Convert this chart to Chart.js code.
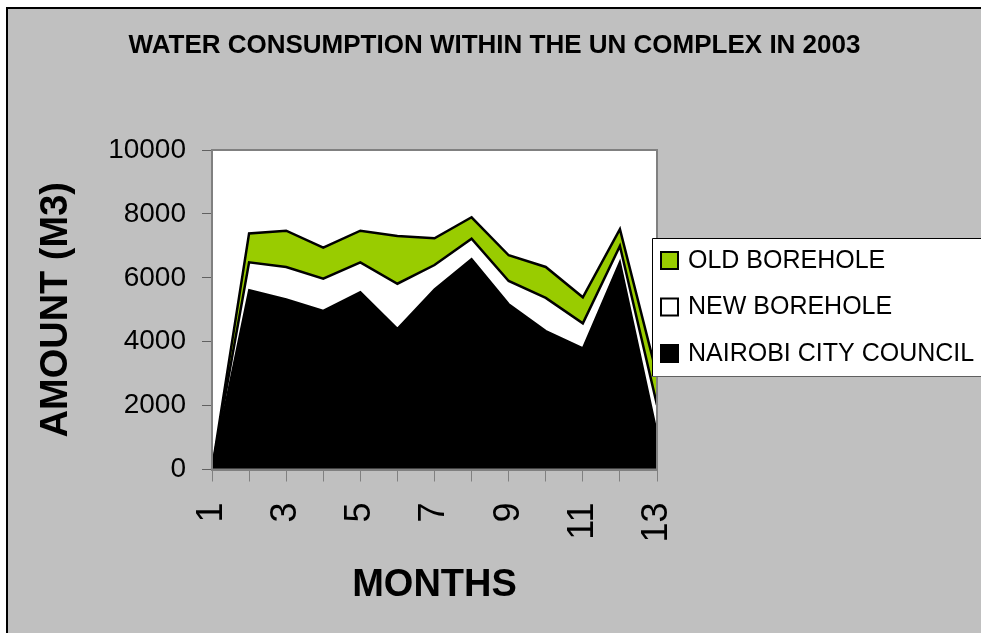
<!DOCTYPE html>
<html>
<head>
<meta charset="utf-8">
<title>Water consumption within the UN complex in 2003</title>
<script src="https://cdn.jsdelivr.net/npm/chart.js@4.4.0/dist/chart.umd.min.js"></script>
<style>
    html, body { margin: 0; padding: 0; background: #fff; }
    #wrap { width: 981px; height: 633px; }
</style>
</head>
<body>
<div id="wrap"><canvas id="waterChart" width="981" height="633"></canvas></div>
<script>
// ===== Data (m3 per month, stacked) =====
const months = ['1', '2', '3', '4', '5', '6', '7', '8', '9', '10', '11', '12', '13'];
const nairobiCouncil = [0, 5620, 5330, 4970, 5560, 4410, 5640, 6590, 5180, 4340, 3800, 6500, 1140];
const newBorehole = [0, 865, 1010, 1000, 925, 1405, 760, 635, 720, 1030, 775, 495, 880];
const oldBorehole = [0, 905, 1135, 975, 990, 1495, 835, 670, 805, 970, 815, 525, 930];
const yTickStep = 2000;
const yMax = 10000;

const FONT = '"Liberation Sans", Arial, sans-serif';

// ===== Grey frame + white plot area =====
const framePlugin = {
    id: 'frame',
    beforeDraw(chart) {
        const { ctx, width, height, chartArea: a } = chart;
        ctx.save();
        ctx.fillStyle = '#ffffff';
        ctx.fillRect(0, 0, width, height);
        ctx.fillStyle = '#c0c0c0';
        ctx.fillRect(7, 8, width, height);
        ctx.fillStyle = '#000';
        ctx.fillRect(6, 7, 2, height);
        ctx.fillRect(6, 7, width, 2);
        ctx.fillStyle = '#ffffff';
        ctx.fillRect(a.left, a.top, a.right - a.left, a.bottom - a.top);
        ctx.restore();
    },
    afterDatasetsDraw(chart) {
        const { ctx, chartArea: a } = chart;
        ctx.save();
        ctx.strokeStyle = '#808080';
        ctx.lineWidth = 2;
        ctx.strokeRect(a.left, a.top, a.right - a.left, a.bottom - a.top);
        ctx.restore();
    }
};

// ===== Boxed legend sitting over the right edge of the plot =====
const boxLegend = {
    id: 'boxLegend',
    afterDraw(chart) {
        const ctx = chart.ctx;
        const left = 652, top = 238, bottom = 377, right = chart.width + 2;
        const rows = [260, 306.5, 353];
        ctx.save();
        ctx.fillStyle = '#fff';
        ctx.fillRect(left, top, right - left, bottom - top);
        ctx.strokeStyle = '#000';
        ctx.lineWidth = 1;
        ctx.beginPath();
        ctx.moveTo(right, top + 0.5);
        ctx.lineTo(left + 0.5, top + 0.5);
        ctx.lineTo(left + 0.5, bottom);
        ctx.stroke();
        ctx.strokeStyle = '#606060';
        ctx.beginPath();
        ctx.moveTo(left, bottom - 0.5);
        ctx.lineTo(right, bottom - 0.5);
        ctx.stroke();

        const items = chart.data.datasets.slice().reverse();
        ctx.font = '25px ' + FONT;
        ctx.textBaseline = 'middle';
        items.forEach((ds, i) => {
            const y = rows[i];
            ctx.fillStyle = ds.backgroundColor;
            ctx.fillRect(661, y - 8, 17, 17);
            ctx.strokeStyle = '#000';
            ctx.lineWidth = 2;
            ctx.strokeRect(661, y - 8, 17, 17);
            ctx.fillStyle = '#000';
            ctx.fillText(ds.label, 688, y + 1);
        });
        ctx.restore();
    }
};

new Chart(document.getElementById('waterChart').getContext('2d'), {
    type: 'line',
    data: {
        labels: months,
        datasets: [
            {
                label: 'NAIROBI CITY COUNCIL',
                data: nairobiCouncil,
                backgroundColor: '#000000',
                borderColor: '#000000',
                borderWidth: 2,
                fill: 'origin',
            },
            {
                label: 'NEW BOREHOLE',
                data: newBorehole,
                backgroundColor: '#ffffff',
                borderColor: '#000000',
                borderWidth: 2.5,
                fill: '-1',
            },
            {
                label: 'OLD BOREHOLE',
                data: oldBorehole,
                backgroundColor: '#99cc00',
                borderColor: '#000000',
                borderWidth: 2.5,
                fill: '-1',
            }
        ]
    },
    options: {
        responsive: false,
        animation: false,
        devicePixelRatio: 1,
        layout: { padding: { left: 8, top: 0, right: 0, bottom: 0 } },
        elements: {
            point: { radius: 0 },
            line: { tension: 0 }
        },
        plugins: {
            legend: { display: false },
            tooltip: { enabled: false },
            title: {
                display: true,
                text: 'WATER CONSUMPTION WITHIN THE UN COMPLEX IN 2003',
                color: '#000',
                font: { family: FONT, size: 26, weight: 'bold' },
                padding: { top: 30, bottom: 88.8 }
            }
        },
        scales: {
            x: {
                type: 'category',
                offset: false,
                afterFit: s => { s.height = 163.5; },
                grid: { drawOnChartArea: false, color: '#808080', tickLength: 12, offset: false },
                border: { display: true, color: '#808080', width: 2 },
                ticks: {
                    autoSkip: false,
                    minRotation: 90,
                    maxRotation: 90,
                    padding: 21,
                    color: '#000',
                    font: { family: FONT, size: 36 },
                    callback: (v, i) => (i % 2 === 0 ? months[i] : '')
                },
                title: {
                    display: true,
                    text: 'MONTHS',
                    color: '#000',
                    font: { family: FONT, size: 38, weight: 'bold' },
                    padding: { top: 0, bottom: 25 }
                }
            },
            y: {
                stacked: true,
                min: 0,
                max: yMax,
                afterFit: s => { s.width = 204; },
                grid: { drawOnChartArea: false, color: '#606060', tickLength: 10 },
                border: { display: true, color: '#808080', width: 2 },
                ticks: {
                    stepSize: yTickStep,
                    padding: 16,
                    color: '#000',
                    font: { family: FONT, size: 28 },
                    callback: v => String(v)
                },
                title: {
                    display: true,
                    text: 'AMOUNT (M3)',
                    color: '#000',
                    font: { family: FONT, size: 38, weight: 'bold' },
                    padding: { top: 26, bottom: 0 }
                }
            },
            // empty right-hand box that reserves room for the legend
            spacer: {
                position: 'right',
                afterFit: s => { s.width = 324; },
                grid: { display: false },
                border: { display: false },
                ticks: { display: false }
            }
        }
    },
    plugins: [framePlugin, boxLegend]
});
</script>
</body>
</html>
